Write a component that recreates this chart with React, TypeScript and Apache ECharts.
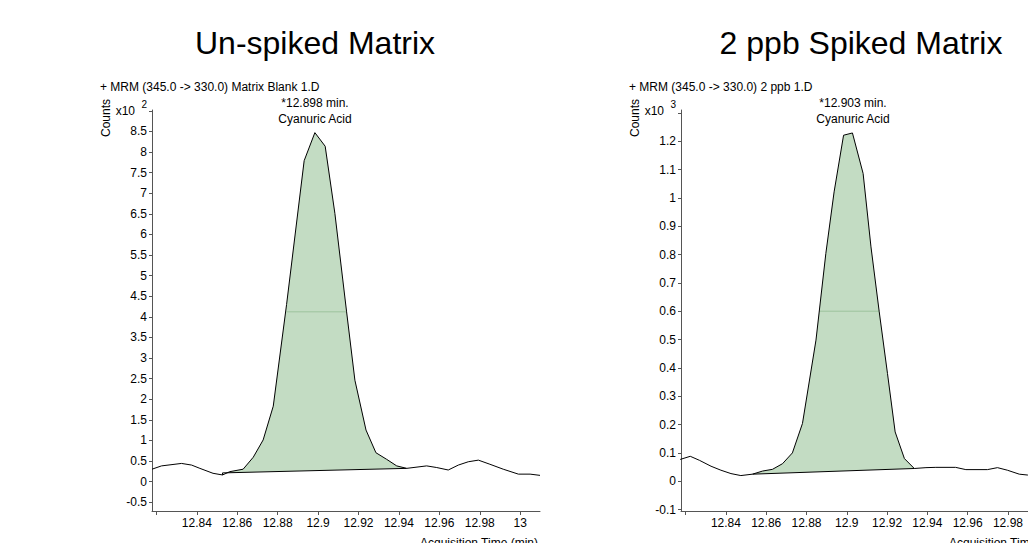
import React, { useEffect, useRef } from "react";
import * as echarts from "echarts";

// ---------- data ----------
const chartTitles = ["Un-spiked Matrix", "2 ppb Spiked Matrix"];
const headers = ["+ MRM (345.0 -> 330.0) Matrix Blank 1.D", "+ MRM (345.0 -> 330.0) 2 ppb 1.D"];
const peakLabels = ["*12.898 min.", "*12.903 min."];
const compoundName = "Cyanuric Acid";
const exponents = ["2", "3"];
const xAxisName = "Acquisition Time (min)";
const yAxisName = "Counts";

const xTickValues = [12.82, 12.84, 12.86, 12.88, 12.9, 12.92, 12.94, 12.96, 12.98, 13.0];
const xLabelValues = [12.84, 12.86, 12.88, 12.9, 12.92, 12.94, 12.96, 12.98, 13.0];

const leftYTicks = [-0.5, 0, 0.5, 1, 1.5, 2, 2.5, 3, 3.5, 4, 4.5, 5, 5.5, 6, 6.5, 7, 7.5, 8, 8.5, 9];
const leftYLabels = [-0.5, 0, 0.5, 1, 1.5, 2, 2.5, 3, 3.5, 4, 4.5, 5, 5.5, 6, 6.5, 7, 7.5, 8, 8.5];
const rightYTicks = [-0.1, 0, 0.1, 0.2, 0.3, 0.4, 0.5, 0.6, 0.7, 0.8, 0.9, 1.0, 1.1, 1.2, 1.3];
const rightYLabels = [-0.1, 0, 0.1, 0.2, 0.3, 0.4, 0.5, 0.6, 0.7, 0.8, 0.9, 1.0, 1.1, 1.2];

// Un-spiked (x10^2 counts)
const leftTimes = [
  12.8178, 12.8225, 12.8324, 12.8374, 12.8415, 12.848, 12.8527, 12.8563, 12.8629, 12.8679,
  12.8728, 12.8778, 12.8844, 12.8931, 12.8984, 12.9035, 12.9083, 12.9141, 12.9182, 12.9237,
  12.9286, 12.9339, 12.9389, 12.9438, 12.9537, 12.9587, 12.9644, 12.9694, 12.9743, 12.9793,
  12.985, 12.9916, 12.9991, 13.0049, 13.0098,
];
const leftCounts = [
  0.3, 0.38, 0.44, 0.4, 0.32, 0.2, 0.16, 0.24, 0.3, 0.59,
  1.01, 1.83, 4.3, 7.79, 8.47, 8.14, 6.51, 4.12, 2.46, 1.25,
  0.7, 0.54, 0.38, 0.32, 0.38, 0.34, 0.28, 0.4, 0.48, 0.52,
  0.42, 0.3, 0.18, 0.18, 0.15,
];
const leftBaseTimes = [12.8527, 12.8527, 12.9438];
const leftBaseCounts = [0.16, 0.21, 0.32];
const leftHalfTimes = [12.8844, 12.9141];
const leftHalfCounts = [4.12, 4.12];

// 2 ppb spiked (x10^3 counts)
const rightTimes = [
  12.8173, 12.8223, 12.8268, 12.8326, 12.8375, 12.8425, 12.8474, 12.8532, 12.8582, 12.8631,
  12.8681, 12.873, 12.878, 12.8847, 12.8896, 12.8937, 12.8984, 12.9028, 12.9081, 12.912,
  12.9161, 12.9202, 12.924, 12.9286, 12.9335, 12.9393, 12.9442, 12.954, 12.9591, 12.9698,
  12.9748, 12.9797, 12.9856, 12.9896, 12.996, 13.005,
];
const rightCounts = [
  0.077, 0.088, 0.074, 0.053, 0.039, 0.027, 0.02, 0.025, 0.036, 0.042,
  0.062, 0.1, 0.204, 0.498, 0.804, 1.021, 1.221, 1.229, 1.086, 0.827,
  0.598, 0.38, 0.174, 0.08, 0.045, 0.048, 0.049, 0.049, 0.041, 0.041,
  0.048, 0.039, 0.025, 0.022, 0.02, 0.022,
];
const rightBaseTimes = [12.8532, 12.9335];
const rightBaseCounts = [0.025, 0.045];
const rightHalfTimes = [12.8863, 12.9161];
const rightHalfCounts = [0.6, 0.6];

// ---------- helpers ----------
const FONT = '"Liberation Sans", Arial, Helvetica, sans-serif';
const pairs = (a: number[], b: number[]) => a.map((v, i) => [v, b[i]]);
const fmt = (v: number) => String(parseFloat(Number(v).toFixed(2)));

function peakPolygon(times: number[], counts: number[], bt: number[], bc: number[]) {
  const t0 = bt[bt.length - 2 >= 0 ? bt.length - 2 : 0];
  const y0 = bc[bc.length - 2 >= 0 ? bc.length - 2 : 0];
  const t1 = bt[bt.length - 1];
  const y1 = bc[bc.length - 1];
  const pts: number[][] = [[t0, y0]];
  times.forEach((t, i) => {
    if (t > t0 && t < t1) pts.push([t, counts[i]]);
  });
  pts.push([t1, y1]);
  return pts;
}

const GRID_TOP = 110;
const GRID_H = 401;
const GRID_W = 388;
const GRID_LEFTS = [152, 681];

function makeXAxis(gridIndex: number, min: number, max: number) {
  return {
    type: "value",
    gridIndex,
    min,
    max,
    axisLine: { show: true, onZero: false, lineStyle: { color: "#555", width: 1 } },
    axisTick: { show: true, length: 4, customValues: xTickValues, lineStyle: { color: "#555" } },
    axisLabel: {
      customValues: xLabelValues,
      formatter: (v: number) => fmt(v),
      color: "#000",
      fontSize: 12,
      fontFamily: FONT,
      margin: 6,
    },
    splitLine: { show: false },
  };
}

function makeYAxis(gridIndex: number, min: number, max: number, ticks: number[], labels: number[]) {
  return {
    type: "value",
    gridIndex,
    min,
    max,
    axisLine: { show: true, onZero: false, lineStyle: { color: "#555", width: 1 } },
    axisTick: { show: true, length: 3, customValues: ticks, lineStyle: { color: "#555" } },
    axisLabel: {
      customValues: labels,
      formatter: (v: number) => fmt(v),
      color: "#000",
      fontSize: 12,
      fontFamily: FONT,
      margin: 5,
    },
    splitLine: { show: false },
  };
}

function panelSeries(
  idx: number,
  times: number[],
  counts: number[],
  bt: number[],
  bc: number[],
  ht: number[],
  hc: number[]
) {
  const poly = peakPolygon(times, counts, bt, bc);
  return [
    {
      type: "custom",
      xAxisIndex: idx,
      yAxisIndex: idx,
      z: 1,
      silent: true,
      data: [poly[0]],
      renderItem: (_p: any, api: any) => ({
        type: "polygon",
        shape: { points: poly.map((p) => api.coord(p)) },
        style: { fill: "#c3dcc3", stroke: "none" },
      }),
    },
    {
      type: "line",
      xAxisIndex: idx,
      yAxisIndex: idx,
      z: 2,
      silent: true,
      symbol: "none",
      data: pairs(ht, hc),
      lineStyle: { color: "#9dc29d", width: 1 },
    },
    {
      type: "line",
      xAxisIndex: idx,
      yAxisIndex: idx,
      z: 3,
      silent: true,
      symbol: "none",
      data: pairs(bt, bc),
      lineStyle: { color: "#000", width: 1 },
    },
    {
      type: "line",
      xAxisIndex: idx,
      yAxisIndex: idx,
      z: 4,
      silent: true,
      symbol: "none",
      data: pairs(times, counts),
      lineStyle: { color: "#000", width: 1 },
    },
  ];
}

function txt(x: number, y: number, text: string, size: number, align = "left", vAlign = "middle", extra: any = {}) {
  return {
    type: "text",
    x,
    y,
    silent: true,
    ...extra,
    style: { text, fontSize: size, fontFamily: FONT, fill: "#000", align, verticalAlign: vAlign },
  };
}

export default function App() {
  const ref = useRef<HTMLDivElement>(null);
  useEffect(() => {
    if (!ref.current) return;
    const chart = echarts.init(ref.current, null, { renderer: "svg" });
    const apexX = [315, 853];
    const graphics: any[] = [];
    [0, 1].forEach((i) => {
      const gl = GRID_LEFTS[i];
      graphics.push(txt(i === 0 ? 315 : 861, 43, chartTitles[i], 32, "center"));
      graphics.push(txt(gl - 52, 87, headers[i], 12, "left"));
      graphics.push(txt(apexX[i], 103, peakLabels[i], 12, "center"));
      graphics.push(txt(apexX[i], 119, compoundName, 12, "center"));
      graphics.push(txt(gl - 46, 118, yAxisName, 12, "center", "middle", { rotation: Math.PI / 2 }));
      graphics.push(txt(gl - 17, 111, "x10", 12, "right"));
      graphics.push(txt(gl - 5, 104, exponents[i], 10, "right"));
      graphics.push(txt(gl + GRID_W - 2, 537, xAxisName, 12, "right", "top"));
    });

    chart.setOption({
      animation: false,
      backgroundColor: "#fff",
      grid: GRID_LEFTS.map((l) => ({
        left: l,
        top: GRID_TOP,
        width: GRID_W,
        height: GRID_H,
        containLabel: false,
        outerBoundsMode: "none",
      })),
      xAxis: [makeXAxis(0, 12.8178, 13.0098), makeXAxis(1, 12.8177, 13.0103)],
      yAxis: [
        makeYAxis(0, -0.715, 9.02, leftYTicks, leftYLabels),
        makeYAxis(1, -0.105, 1.31, rightYTicks, rightYLabels),
      ],
      series: [
        ...panelSeries(0, leftTimes, leftCounts, leftBaseTimes, leftBaseCounts, leftHalfTimes, leftHalfCounts),
        ...panelSeries(1, rightTimes, rightCounts, rightBaseTimes, rightBaseCounts, rightHalfTimes, rightHalfCounts),
      ],
      graphic: graphics,
    });
    return () => chart.dispose();
  }, []);

  return (
    <div
      style={{
        position: "fixed",
        left: 0,
        top: 0,
        width: 1028,
        height: 543,
        overflow: "hidden",
        background: "#fff",
      }}
    >
      <div ref={ref} style={{ width: 1100, height: 560 }} />
    </div>
  );
}
